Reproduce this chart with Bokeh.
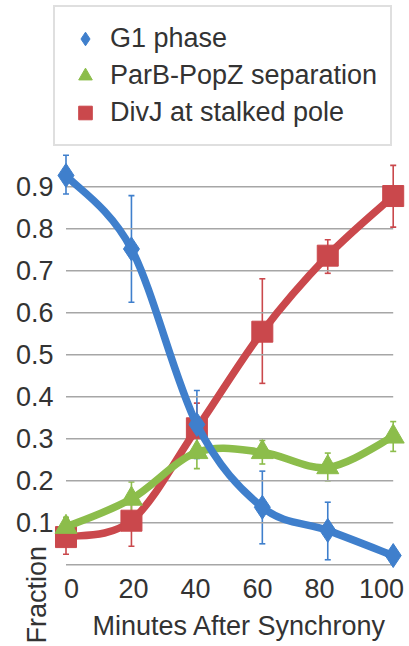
import numpy as np
from bokeh.plotting import figure
from bokeh.models import (ColumnDataSource, Range1d, LinearAxis, FixedTicker, Whisker,
                          TeeHead, Legend, LegendItem, Label)
from bokeh.embed import file_html
from bokeh.resources import INLINE

# ---- data ----
minutes = [0, 20, 40, 60, 80, 100]

g1_phase = [0.927, 0.752, 0.334, 0.137, 0.082, 0.022]
g1_upper = [0.975, 0.879, 0.415, 0.223, 0.149, 0.030]
g1_lower = [0.883, 0.625, 0.253, 0.050, 0.012, 0.014]

parb_sep = [0.090, 0.157, 0.268, 0.268, 0.232, 0.305]
parb_upper = [0.113, 0.197, 0.305, 0.296, 0.266, 0.341]
parb_lower = [0.070, 0.120, 0.229, 0.240, 0.200, 0.270]

divj_stalked = [0.066, 0.105, 0.325, 0.555, 0.736, 0.878]
divj_upper = [0.107, 0.165, 0.385, 0.681, 0.774, 0.951]
divj_lower = [0.025, 0.044, 0.262, 0.432, 0.694, 0.804]

y_ticks = [0.1, 0.2, 0.3, 0.4, 0.5, 0.6, 0.7, 0.8, 0.9]
grid_levels = [0.0] + y_ticks

series_names = ["G1 phase", "ParB-PopZ separation", "DivJ at stalked pole"]
x_title = "Minutes After Synchrony"
y_title = "Fraction"

# ---- styles ----
FONT = "Liberation Sans"
TXT = "#333333"
BLUE = "#3F7FCC"
GREEN = "#8CBD4B"
RED = "#CA484C"

W, H = 409, 646
p = figure(width=W, height=H,
           x_range=Range1d(-20.018, 104.98), y_range=Range1d(-0.19452, 1.34357),
           output_backend="svg", toolbar_location=None,
           x_axis_location=None, y_axis_location=None,
           min_border_left=0, min_border_right=0, min_border_top=0, min_border_bottom=0)
p.outline_line_color = None
p.background_fill_color = "white"
p.border_fill_color = "white"
p.grid.visible = False

# y axis (drawn at the left edge of the data area)
yax = LinearAxis(ticker=FixedTicker(ticks=y_ticks), fixed_location=-3.209)
yax.axis_line_color = None
yax.major_tick_line_color = None
yax.minor_tick_line_color = None
yax.major_tick_out = 0
yax.major_tick_in = 0
yax.major_label_standoff = 2
yax.major_label_text_font = FONT
yax.major_label_text_font_size = "27px"
yax.major_label_text_color = TXT
p.add_layout(yax, "left")

# x axis (category-style label placement like the original)
p.extra_x_ranges = {"lab": Range1d(-22.903, 109.03)}
xax = LinearAxis(x_range_name="lab", ticker=FixedTicker(ticks=minutes), fixed_location=-0.01595)
xax.axis_line_color = None
xax.major_tick_line_color = None
xax.minor_tick_line_color = None
xax.major_tick_out = 0
xax.major_tick_in = 0
xax.major_label_standoff = 7
xax.major_label_text_font = FONT
xax.major_label_text_font_size = "27px"
xax.major_label_text_color = TXT
p.add_layout(xax, "below")

# horizontal gridlines spanning the data range
p.segment(x0=[minutes[0]] * len(grid_levels), x1=[minutes[-1]] * len(grid_levels),
          y0=grid_levels, y1=grid_levels, line_color="#A6A6A6", line_width=1.6)


def smooth_parts(xs, ys):
    n = len(xs)
    d = dict(x0=[], y0=[], x1=[], y1=[], cx0=[], cy0=[], cx1=[], cy1=[])
    for i in range(n - 1):
        ia, ib = max(i - 1, 0), min(i + 2, n - 1)
        d["x0"].append(xs[i]); d["y0"].append(ys[i])
        d["x1"].append(xs[i + 1]); d["y1"].append(ys[i + 1])
        d["cx0"].append(xs[i] + (xs[i + 1] - xs[ia]) / 6.0)
        d["cy0"].append(ys[i] + (ys[i + 1] - ys[ia]) / 6.0)
        d["cx1"].append(xs[i + 1] - (xs[ib] - xs[i]) / 6.0)
        d["cy1"].append(ys[i + 1] - (ys[ib] - ys[i]) / 6.0)
    return d


renderers = {}
specs = [
    ("DivJ at stalked pole", divj_stalked, divj_upper, divj_lower, RED, "square", 21),
    ("ParB-PopZ separation", parb_sep, parb_upper, parb_lower, GREEN, "triangle", 22),
    ("G1 phase", g1_phase, g1_upper, g1_lower, BLUE, "diamond", 24),
]
for name, ys, up, lo, col, marker, size in specs:
    src = ColumnDataSource(dict(x=minutes, y=ys, upper=up, lower=lo))
    w = Whisker(source=src, base="x", upper="upper", lower="lower", dimension="height",
                line_color=col, line_width=1.6,
                upper_head=TeeHead(size=6, line_color=col, line_width=1.6),
                lower_head=TeeHead(size=6, line_color=col, line_width=1.6))
    p.add_layout(w)
    bz = ColumnDataSource(smooth_parts(minutes, ys))
    p.bezier(x0="x0", y0="y0", x1="x1", y1="y1", cx0="cx0", cy0="cy0", cx1="cx1", cy1="cy1",
             source=bz, line_color=col, line_width=7.5, line_cap="round")
    r = p.scatter(x="x", y="y", source=src, marker=marker, size=size,
                  fill_color=col, line_color=col, line_width=1)
    renderers[name] = r

legend = Legend(items=[LegendItem(label=n, renderers=[renderers[n]]) for n in series_names],
                location=(53, 500), orientation="vertical",
                glyph_width=34, glyph_height=37, spacing=0, padding=13,
                label_standoff=8, margin=0, label_height=37,
                label_text_font=FONT, label_text_font_size="27px", label_text_color=TXT,
                border_line_color="#BFBFBF", border_line_width=2.5,
                background_fill_color="white", background_fill_alpha=1.0)
p.add_layout(legend)

xlab = Label(x=53.03, y=-0.1446, text=x_title,
             text_font=FONT, text_font_size="27px", text_color=TXT,
             text_align="center", text_baseline="alphabetic")
p.add_layout(xlab)

ylab = Label(x=-9.0, y=-0.1874, text=y_title, angle=np.pi / 2,
             text_font=FONT, text_font_size="27px", text_color=TXT,
             text_align="left", text_baseline="alphabetic")
p.add_layout(ylab)

open("out.html", "w").write(file_html(p, INLINE))
